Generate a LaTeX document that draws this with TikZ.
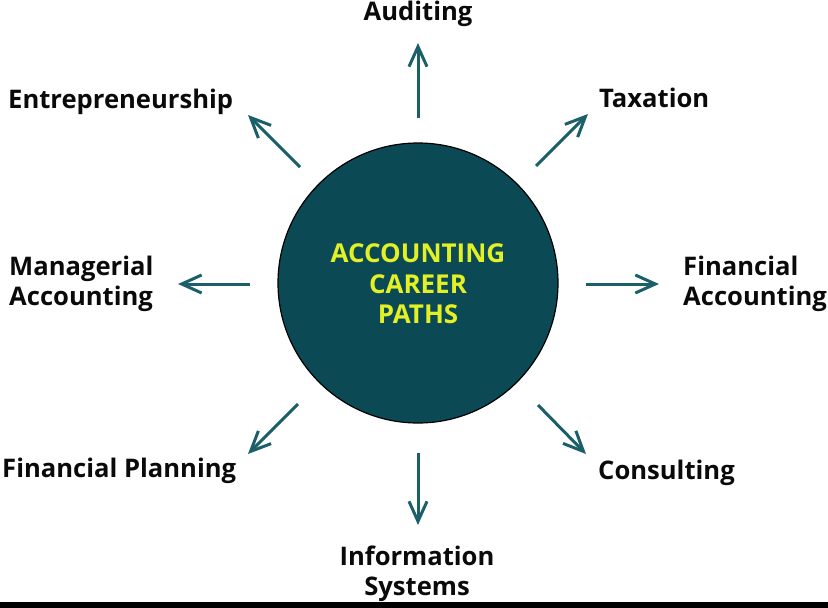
\documentclass[tikz,border=0pt]{standalone}
\usepackage{fontspec}
\setmainfont{Open Sans}
\usetikzlibrary{arrows.meta}
\definecolor{circfill}{HTML}{0B4A55}
\definecolor{arrowcol}{HTML}{1B5F68}
\definecolor{txtyellow}{HTML}{E2F025}
\definecolor{labelcol}{HTML}{0A0A0A}
\tikzset{
  lbl/.style={inner sep=0pt, font=\bfseries\fontsize{25.6}{30}\selectfont, text=labelcol},
  ctr/.style={inner sep=0pt, font=\bfseries\fontsize{26}{31}\selectfont, text=txtyellow},
  arr/.style={draw=arrowcol, line width=3pt, -{Straight Barb[length=20pt,width=18pt]}},
}
\begin{document}
\begin{tikzpicture}[x=1pt,y=-1pt]
\useasboundingbox (0,0) rectangle (828,608);
\fill[black] (0,602) rectangle (828,608);
% central circle
\node[circle, draw=black, line width=1.2pt, fill=circfill, minimum size=280pt, inner sep=0pt] (c) at (418,283) {};
\node[ctr, anchor=base] (t1) at (418,262) {ACCOUNTING};
\node[ctr, anchor=base] (t2) at (418,293) {CAREER};
\node[ctr, anchor=base] (t3) at (418,323) {PATHS};
% arrow endpoints
\coordinate (s1) at (418,118);  \coordinate (e1) at (418,43);
\coordinate (s2) at (536,166);  \coordinate (e2) at (588,114);
\coordinate (s3) at (586,284);  \coordinate (e3) at (659,284);
\coordinate (s4) at (538,405);  \coordinate (e4) at (586,454);
\coordinate (s5) at (418,453);  \coordinate (e5) at (418,525);
\coordinate (s6) at (298,404);  \coordinate (e6) at (248,454);
\coordinate (s7) at (250,284);  \coordinate (e7) at (178,284);
\coordinate (s8) at (300,167);  \coordinate (e8) at (248,115);
\foreach \i in {1,...,8} {\draw[arr] (s\i) -- (e\i);}
% labels
\node[lbl, anchor=base] (aud) at (418,20) {Auditing};
\node[lbl, anchor=base west] (tax) at (599,107) {Taxation};
\node[lbl, anchor=base west, align=left] (fa) at (683,305) {Financial\\Accounting};
\node[lbl, anchor=base west] (con) at (598,479) {Consulting};
\node[lbl, anchor=base, align=center] (is) at (417,595) {Information\\Systems};
\node[lbl, anchor=base west] (fp) at (2,477) {Financial Planning};
\node[lbl, anchor=base west, align=left] (ma) at (9,305) {Managerial\\Accounting};
\node[lbl, anchor=base west] (ent) at (8,108) {Entrepreneurship};
\end{tikzpicture}
\end{document}
